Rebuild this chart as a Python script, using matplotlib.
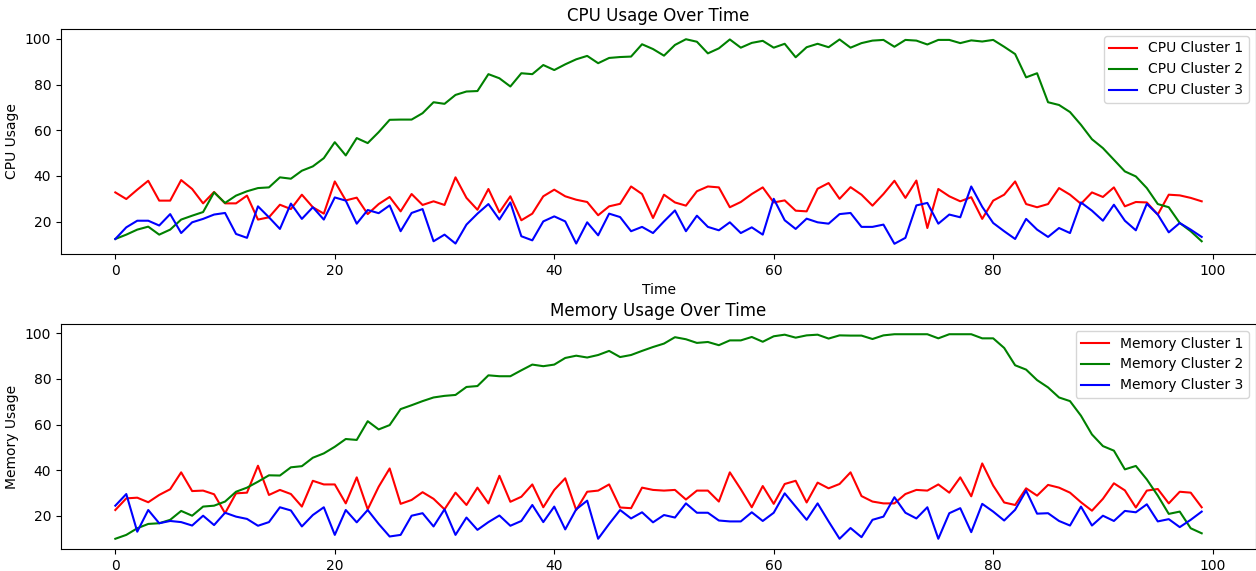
import numpy as np
import matplotlib
matplotlib.use("Agg")
import matplotlib.pyplot as plt

time = list(range(100))

cpu_c1 = [32.8, 29.9, 34, 37.9, 29.2, 29.2, 38.2, 34.3, 28, 33,
          28, 28, 31.4, 20.9, 21.9, 27.4, 25.5, 31.8, 26.3, 23.5,
          37.6, 29.3, 30.5, 23.3, 27.7, 30.8, 24.5, 32.1, 27.3, 28.9,
          27.3, 39.4, 30.4, 25.2, 34.3, 24.1, 31.1, 20.6, 23.5, 31.1,
          34, 31.1, 29.6, 28.6, 22.8, 26.7, 27.8, 35.4, 32.1, 21.6,
          31.8, 28.4, 27, 33.3, 35.4, 35, 26.3, 28.6, 32.1, 35,
          28.4, 29.3, 24.8, 24.5, 34.4, 36.9, 30, 35.1, 31.8, 27,
          32.1, 37.9, 30.4, 38, 17.2, 34.3, 31.1, 28.9, 30.7, 21.2,
          29.2, 31.8, 37.6, 27.7, 26.3, 27.7, 34.7, 31.8, 27.8, 32.8,
          30.8, 35, 26.7, 28.6, 28.4, 23.1, 31.8, 31.5, 30.4, 28.9]

cpu_c2 = [12.4, 14.3, 16.5, 17.8, 14.3, 16.5, 20.9, 22.6, 24.2, 32.8,
          28.2, 31.4, 33.3, 34.7, 35, 39.4, 38.8, 42.3, 44.2, 47.8,
          54.8, 49, 56.6, 54.4, 59.2, 64.6, 64.7, 64.7, 67.5, 72.3,
          71.6, 75.5, 77, 77.2, 84.6, 82.8, 79.2, 85, 84.6, 88.6,
          86.4, 88.9, 91.1, 92.6, 89.4, 91.7, 92.1, 92.3, 97.7, 95.6,
          92.7, 97.4, 99.9, 98.8, 93.7, 95.9, 99.8, 96.2, 98.3, 99.2,
          96.2, 97.9, 92, 96.4, 97.9, 96.4, 99.8, 96.2, 98.2, 99.3,
          99.6, 96.6, 99.6, 99.3, 97.6, 99.6, 99.6, 98.2, 99.4, 98.9,
          99.6, 96.6, 93.4, 83.2, 85, 72.3, 71.1, 68, 62.4, 56.1,
          52.2, 47.1, 42, 39.8, 34.7, 27.7, 26.3, 19.4, 15.8, 11.4]

cpu_c3 = [12.4, 17.5, 20.4, 20.4, 18.3, 23.3, 15, 19.7, 21.2, 23.1,
          23.8, 14.6, 12.9, 26.7, 21.9, 16.8, 27.9, 21.2, 26.3, 20.9,
          30.6, 29.2, 19.1, 25.1, 23.7, 27.1, 15.8, 23.8, 25.5, 11.4,
          14.3, 10.4, 18.7, 23.5, 27.7, 20.9, 28.4, 13.6, 11.8, 20.1,
          22.3, 20.1, 10.4, 19.7, 14, 23.5, 22, 15.8, 17.7, 15,
          20.1, 24.9, 15.8, 22.6, 17.7, 16.2, 19.7, 15, 17.5, 14.3,
          30, 20.6, 16.8, 21.3, 19.7, 19.1, 23.3, 23.8, 17.7, 17.7,
          18.7, 10.3, 12.9, 27.1, 28.2, 19.1, 23.1, 21.9, 35.4, 26.5,
          19.4, 15.8, 12.4, 21.2, 16.5, 13.3, 17.2, 15, 28.4, 24.8,
          20.4, 27.4, 20.4, 16.2, 27.8, 23.1, 15.3, 19.4, 16.5, 13.3]

mem_c1 = [22.6, 27.7, 28, 26, 29.2, 31.7, 39.1, 30.9, 31.1, 29.5,
          21.2, 29.9, 30.2, 42, 29.2, 31.4, 29.6, 24.1, 35.4, 33.8,
          33.8, 25.5, 36.9, 22.9, 32.8, 40.8, 25.3, 27, 30.4, 27.5,
          22.9, 30.2, 24.8, 32.4, 25.5, 37.6, 26.2, 28.4, 33.8, 23.8,
          31.4, 36.5, 22.6, 30.6, 31.1, 33.8, 23.7, 23.4, 32.4, 31.4,
          31.1, 31.4, 27.2, 31.1, 31.1, 26.3, 39.1, 31.7, 23.8, 33.1,
          25.3, 34, 35.4, 25.9, 34.6, 32.1, 34, 39.1, 28.7, 26.3,
          25.5, 25.5, 29.6, 31.4, 31.1, 33.8, 30.2, 36.9, 28.6, 43,
          33.3, 25.9, 24.8, 32.1, 28.9, 33.6, 32.4, 30.2, 26, 22.3,
          27.5, 34.3, 31.2, 23.7, 31.1, 31.8, 25.5, 30.6, 30.2, 23.8]

mem_c2 = [10, 11.7, 14.6, 16.5, 16.8, 18.3, 22.2, 20.1, 24.1, 24.5,
          26.3, 30.6, 32.4, 35, 37.8, 37.7, 41.3, 41.8, 45.5, 47.4,
          50.3, 53.7, 53.3, 61.5, 57.9, 59.8, 66.8, 68.5, 70.3, 71.9,
          72.6, 73, 76.5, 76.9, 81.6, 81.2, 81.2, 83.8, 86.3, 85.6,
          86.3, 89.2, 90.2, 89.4, 90.5, 92.3, 89.6, 90.5, 92.3, 94,
          95.5, 98.3, 97.4, 95.8, 96.2, 94.8, 96.9, 96.9, 98.4, 96.3,
          98.7, 99.4, 98.1, 99.1, 99.4, 97.7, 99.1, 99, 99, 97.5,
          99.1, 99.6, 99.6, 99.6, 99.6, 97.8, 99.6, 99.6, 99.6, 97.8,
          97.8, 93.6, 86, 84.1, 79.5, 76.3, 71.9, 70.3, 63.9, 55.7,
          50.6, 48.6, 40.4, 41.9, 36, 28.9, 20.9, 21.9, 14.6, 12.4]

mem_c3 = [24.5, 29.6, 13.1, 22.6, 16.8, 17.8, 17.3, 15.8, 20.1, 16,
          21.4, 19.7, 18.7, 15.7, 17.3, 23.8, 22.4, 15.4, 20.4, 23.8,
          11.7, 22.6, 17.2, 22.6, 16.5, 11, 11.7, 20.1, 21.2, 15.4,
          22.9, 11.7, 19.3, 13.9, 17.3, 20.2, 15.7, 17.8, 24.8, 17.3,
          24.1, 14.1, 22.9, 26.7, 10, 16.5, 22.6, 18.9, 21.6, 17.2,
          20.4, 19.3, 25.5, 21.4, 21.4, 18, 17.6, 17.6, 21.6, 17.8,
          21.4, 29.9, 24.1, 18.3, 25.5, 17.6, 10, 14.7, 10.7, 18.3,
          19.7, 28.2, 21.4, 18.9, 23.8, 10, 21.2, 23.4, 12.9, 25.3,
          21.9, 18, 22.7, 31.1, 21, 21.2, 17.8, 15.8, 24.1, 15.8,
          20.1, 17.8, 22.2, 21.6, 25.1, 17.6, 18.6, 15.1, 18.3, 21.9]

colors = ["red", "green", "blue"]

fig = plt.figure(figsize=(12.56, 5.71), dpi=100)
W, H = 1256, 571
L, R = 61, 1256
ax1 = fig.add_axes([L / W, 1 - 254 / H, (R - L) / W, (254 - 29) / H])
ax2 = fig.add_axes([L / W, 1 - 549 / H, (R - L) / W, (549 - 324) / H])

for series, label, c in zip([cpu_c1, cpu_c2, cpu_c3],
                            ["CPU Cluster 1", "CPU Cluster 2", "CPU Cluster 3"], colors):
    ax1.plot(time, series, color=c, label=label)
ax1.set_title("CPU Usage Over Time")
ax1.set_xlabel("Time")
ax1.set_ylabel("CPU Usage")
ax1.legend(loc="upper right")

for series, label, c in zip([mem_c1, mem_c2, mem_c3],
                            ["Memory Cluster 1", "Memory Cluster 2", "Memory Cluster 3"], colors):
    ax2.plot(time, series, color=c, label=label)
ax2.set_title("Memory Usage Over Time")
ax2.set_ylabel("Memory Usage")
ax2.legend(loc="upper right")

fig.savefig("out.png", dpi=100)
